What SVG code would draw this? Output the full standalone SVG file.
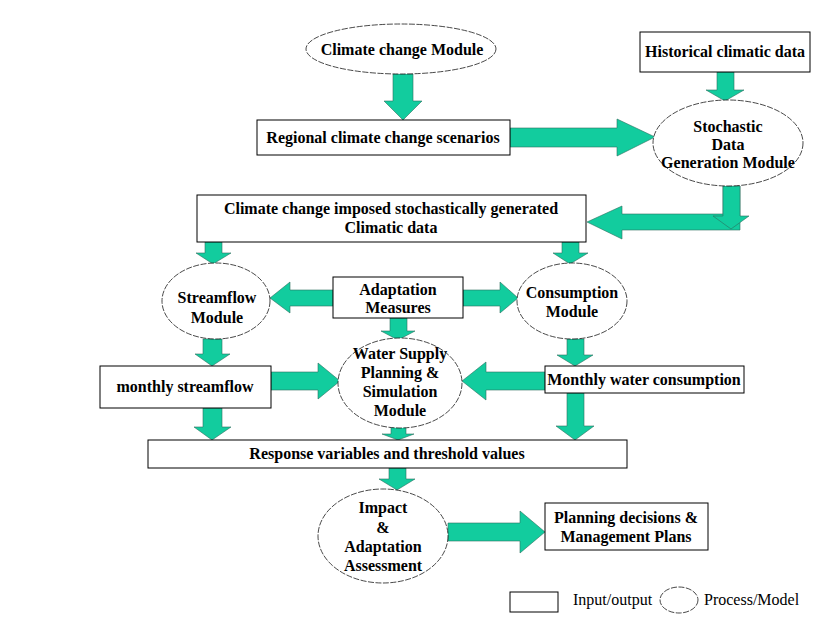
<svg xmlns="http://www.w3.org/2000/svg" width="820" height="621" viewBox="0 0 820 621">
  <style>
    .box { fill: #ffffff; stroke: #000000; stroke-width: 1; }
    .oval { fill: #ffffff; stroke: #1a1a1a; stroke-width: 0.8; stroke-dasharray: 6 1.5; }
    .arrow { fill: #12CC9E; stroke: #2b6e5e; stroke-width: 0.6; stroke-linejoin: miter; }
    .lbl { font-family: "Liberation Serif", "Times New Roman", serif; font-weight: bold; font-size: 16px; fill: #000000; text-anchor: middle; }
    .leg { font-family: "Liberation Serif", "Times New Roman", serif; font-size: 16px; fill: #000000; }
  </style>
  <rect width="820" height="621" fill="#ffffff"/>

  <!-- block arrows -->
  <g id="connectors">
    <!-- climate module -> regional scenarios -->
    <polygon class="arrow" points="393,74 413,74 413,101 422,101 403,120 384,101 393,101"/>
    <!-- regional scenarios -> stochastic module -->
    <polygon class="arrow" points="510,128 617,128 617,119 655,137 617,156 617,147 510,147"/>
    <!-- historical data -> stochastic module -->
    <polygon class="arrow" points="717,72 734,72 734,90 744,90 725,101 706,90 717,90"/>
    <!-- stochastic module -> climate-imposed data (bent) -->
    <polygon class="arrow" points="622,214 723,214 723,186 740,186 740,230 622,230 622,239 587,222 622,206"/>
    <polygon class="arrow" points="723,186 740,186 740,216 749,216 731,229 713,216 723,216"/>
    <!-- climate-imposed data -> streamflow / consumption -->
    <polygon class="arrow" points="205,242 222,242 222,253 231,253 213,264 196,253 205,253"/>
    <polygon class="arrow" points="562,242 579,242 579,253 588,253 570,264 553,253 562,253"/>
    <!-- adaptation -> streamflow / consumption / water supply -->
    <polygon class="arrow" points="333,290 290,290 290,282 270,298 290,313 290,306 333,306"/>
    <polygon class="arrow" points="463,290 500,290 500,282 518,298 500,313 500,306 463,306"/>
    <polygon class="arrow" points="390,318 407,318 407,331 415,331 398,340 381,331 390,331"/>
    <!-- streamflow -> monthly streamflow -->
    <polygon class="arrow" points="203,339 222,339 222,354 230,354 212,366 195,354 203,354"/>
    <!-- consumption -> monthly water consumption -->
    <polygon class="arrow" points="567,339 584,339 584,355 593,355 575,366 557,355 567,355"/>
    <!-- monthly streamflow -> water supply -->
    <polygon class="arrow" points="271,372 318,372 318,363 340,381 318,399 318,390 271,390"/>
    <!-- monthly water consumption -> water supply -->
    <polygon class="arrow" points="545,372 486,372 486,362 462,381 486,400 486,390 545,390"/>
    <!-- outputs -> response variables -->
    <polygon class="arrow" points="203,408 222,408 222,427 231,427 212,440 194,427 203,427"/>
    <polygon class="arrow" points="391,427 406,427 406,434 414,434 398,440 382,434 391,434"/>
    <polygon class="arrow" points="567,393 584,393 584,426 594,426 575,440 556,426 567,426"/>
    <!-- response variables -> impact assessment -->
    <polygon class="arrow" points="389,468 406,468 406,479 415,479 397,490 379,479 389,479"/>
    <!-- impact assessment -> planning decisions -->
    <polygon class="arrow" points="448,523 520,523 520,511 545,532 520,553 520,541 448,541"/>
  </g>

  <g id="climate-module">
    <ellipse class="oval" cx="401" cy="49" rx="95" ry="25"/>
    <text class="lbl" x="402" y="55">Climate change Module</text>
  </g>

  <g id="regional-scenarios">
    <rect class="box" x="257" y="120" width="253" height="35"/>
    <text class="lbl" x="383" y="143">Regional climate change scenarios</text>
  </g>

  <g id="historical-data">
    <rect class="box" x="640" y="32" width="170" height="40"/>
    <text class="lbl" x="725" y="57">Historical climatic data</text>
  </g>

  <g id="stochastic-module">
    <ellipse class="oval" cx="728" cy="143" rx="75" ry="43"/>
    <text class="lbl" x="728" y="132">Stochastic</text>
    <text class="lbl" x="728" y="150">Data</text>
    <text class="lbl" x="728" y="168">Generation Module</text>
  </g>

  <g id="climate-imposed-data">
    <rect class="box" x="197" y="195" width="389" height="47"/>
    <text class="lbl" x="391" y="214">Climate change imposed stochastically generated</text>
    <text class="lbl" x="391" y="233">Climatic data</text>
  </g>

  <g id="streamflow-module">
    <ellipse class="oval" cx="216" cy="301" rx="54" ry="38"/>
    <text class="lbl" x="217" y="303">Streamflow</text>
    <text class="lbl" x="217" y="323">Module</text>
  </g>

  <g id="adaptation-measures">
    <rect class="box" x="333" y="277" width="130" height="41"/>
    <text class="lbl" x="398" y="295">Adaptation</text>
    <text class="lbl" x="398" y="313">Measures</text>
  </g>

  <g id="consumption-module">
    <ellipse class="oval" cx="572" cy="301" rx="55" ry="38"/>
    <text class="lbl" x="572" y="298">Consumption</text>
    <text class="lbl" x="572" y="317">Module</text>
  </g>

  <g id="water-supply-module">
    <ellipse class="oval" cx="400" cy="383" rx="62" ry="45"/>
    <text class="lbl" x="400" y="359">Water Supply</text>
    <text class="lbl" x="400" y="378">Planning &amp;</text>
    <text class="lbl" x="400" y="397">Simulation</text>
    <text class="lbl" x="400" y="416">Module</text>
  </g>

  <g id="monthly-streamflow">
    <rect class="box" x="100" y="366" width="171" height="42"/>
    <text class="lbl" x="185" y="392">monthly streamflow</text>
  </g>

  <g id="monthly-consumption">
    <rect class="box" x="545" y="366" width="199" height="27"/>
    <text class="lbl" x="644" y="385">Monthly water consumption</text>
  </g>

  <g id="response-variables">
    <rect class="box" x="148" y="440" width="479" height="28"/>
    <text class="lbl" x="387" y="459">Response variables and threshold values</text>
  </g>

  <g id="impact-assessment">
    <ellipse class="oval" cx="383" cy="536" rx="65" ry="47"/>
    <text class="lbl" x="383" y="513">Impact</text>
    <text class="lbl" x="383" y="533">&amp;</text>
    <text class="lbl" x="383" y="552">Adaptation</text>
    <text class="lbl" x="383" y="571">Assessment</text>
  </g>

  <g id="planning-decisions">
    <rect class="box" x="545" y="503" width="163" height="47"/>
    <text class="lbl" x="626" y="523">Planning decisions &amp;</text>
    <text class="lbl" x="626" y="542">Management Plans</text>
  </g>

  <g id="legend">
    <rect class="box" x="510" y="592" width="48" height="20"/>
    <text class="leg" x="573" y="605">Input/output</text>
    <ellipse class="oval" cx="679" cy="600" rx="19" ry="13"/>
    <text class="leg" x="704" y="605">Process/Model</text>
  </g>
</svg>
